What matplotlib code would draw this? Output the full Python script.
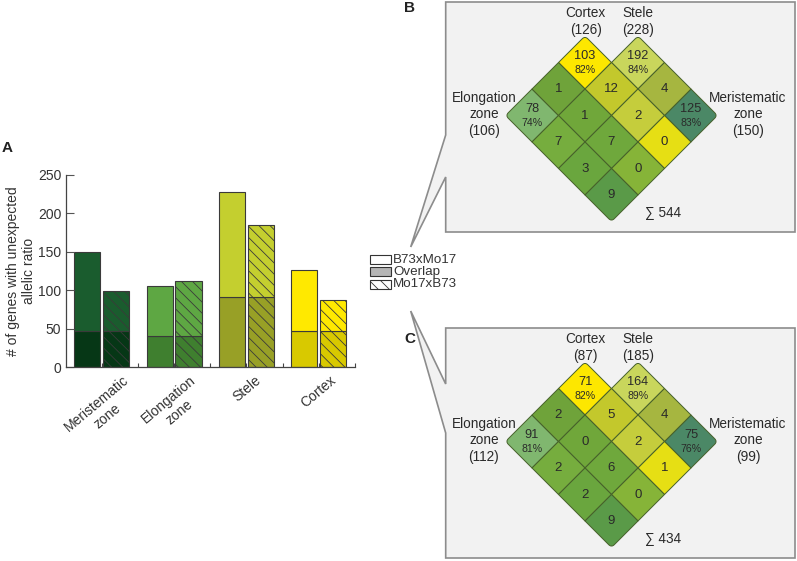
import matplotlib
matplotlib.use("Agg")
import matplotlib.pyplot as plt
from matplotlib.patches import Rectangle, Polygon, PathPatch
from matplotlib.path import Path
import numpy as np

plt.rcParams['font.family'] = ['Liberation Sans', 'DejaVu Sans']
plt.rcParams['hatch.linewidth'] = 0.6

# ---------------- data ----------------
categories = ["Meristematic\nzone", "Elongation\nzone", "Stele", "Cortex"]
b73_total = [150, 106, 228, 126]
mo17_total = [99, 112, 185, 87]
overlap = [47, 41, 92, 47]
bar_light = ['#1a5c2e', '#5ea743', '#c4cf2f', '#ffe900']
bar_dark = ['#063716', '#3f7f2f', '#98a026', '#d8c900']

legend_labels = ["B73xMo17", "Overlap", "Mo17xB73"]

# Venn cells: grid (p, q) -> region
venn_cells = [(3, 2), (2, 3), (0, 3), (3, 0), (3, 1), (2, 2), (1, 3),
              (2, 1), (1, 2), (2, 0), (1, 1), (0, 2), (1, 0), (0, 1), (0, 0)]
venn_b_counts = [103, 192, 125, 78, 1, 12, 4, 1, 2, 7, 7, 0, 3, 0, 9]
venn_b_pct = ["82%", "84%", "83%", "74%"]
venn_c_counts = [71, 164, 75, 91, 2, 5, 4, 0, 2, 2, 6, 1, 2, 0, 9]
venn_c_pct = ["82%", "89%", "76%", "81%"]
venn_colors = ['#fde700', '#c9d65c', '#4b8866', '#80b76f', '#6fa33a', '#c3c82c',
               '#a6b640', '#70a73a', '#c5cd3c', '#76ad3e', '#6fa83c', '#e6df14',
               '#6aa63e', '#86b438', '#5a9a48']
venn_b_totals = {"Cortex": 126, "Stele": 228, "Elongation": 106, "Meristematic": 150}
venn_c_totals = {"Cortex": 87, "Stele": 185, "Elongation": 112, "Meristematic": 99}
venn_b_sum = 544
venn_c_sum = 434

# ---------------- figure ----------------
W, H = 797, 561
fig = plt.figure(figsize=(W / 100, H / 100), dpi=100)

# bar chart axes (pixel geometry)
ax_l, ax_r, ax_b, ax_t = 65.6, 355.0, 367.3, 175.0
ax = fig.add_axes([ax_l / W, 1 - ax_b / H, (ax_r - ax_l) / W, (ax_b - ax_t) / H])
x = np.arange(len(categories))
w = 0.36
off = 0.199
edge = '#3a3a3a'
for i in range(len(categories)):
    # B73xMo17
    ax.bar(x[i] - off, overlap[i], w, color=bar_dark[i], edgecolor=edge, linewidth=0.8)
    ax.bar(x[i] - off, b73_total[i] - overlap[i], w, bottom=overlap[i],
           color=bar_light[i], edgecolor=edge, linewidth=0.8)
    # Mo17xB73
    ax.bar(x[i] + off, overlap[i], w, color=bar_dark[i], edgecolor=edge,
           linewidth=0.8, hatch='\\\\\\')
    ax.bar(x[i] + off, mo17_total[i] - overlap[i], w, bottom=overlap[i],
           color=bar_light[i], edgecolor=edge, linewidth=0.8, hatch='\\\\\\')

ax.set_xlim(-0.5, 3.5)
ax.set_ylim(0, 250)
ax.set_yticks([0, 50, 100, 150, 200, 250])
ax.tick_params(axis='y', direction='in', length=5.5, width=0.8, labelsize=10,
               colors='#555555', labelcolor='#333333', pad=3)
ax.set_xticks(x)
ax.set_xticklabels(categories, rotation=40, ha='center', va='top',
                   multialignment='center', fontsize=10, color='#333333')
ax.set_xticks([0.5, 1.5, 2.5, 3.5], minor=True)
ax.tick_params(axis='x', which='both', direction='in', length=3, width=0.8,
               colors='#444444', labelcolor='#333333', pad=4)
for s in ['top', 'right']:
    ax.spines[s].set_visible(False)
for s in ['left', 'bottom']:
    ax.spines[s].set_color('#444444')
    ax.spines[s].set_linewidth(0.9)
ax.spines['left'].set_bounds(0, 250)

# overlay axes in pixel coords
ov = fig.add_axes([0, 0, 1, 1])
ov.set_xlim(0, W)
ov.set_ylim(H, 0)
ov.axis('off')

ov.text(21, 271, "# of genes with unexpected\nallelic ratio", rotation=90,
        ha='center', va='center', fontsize=10, color='#333333', linespacing=1.15)
ov.text(7, 148, "A", fontsize=11, fontweight='bold', ha='center', va='center', color='#222222')
ov.text(410, 8, "B", fontsize=11, fontweight='bold', ha='center', va='center', color='#222222')
ov.text(410, 339, "C", fontsize=11, fontweight='bold', ha='center', va='center', color='#222222')

# legend
leg_fc = ['white', '#b5b5b5', 'white']
leg_hatch = [None, None, '\\\\\\']
for k, lab in enumerate(legend_labels):
    y0 = 255 + k * 12.4
    ov.add_patch(Rectangle((370, y0), 20.7, 9, facecolor=leg_fc[k], edgecolor='#333333',
                           linewidth=0.8, hatch=leg_hatch[k]))
    ov.text(393.3, y0 + 4.5, lab, fontsize=9.6, ha='left', va='center', color='#333333')

# callout boxes
box_fc, box_ec = '#f2f2f2', '#8c8c8c'
ov.add_patch(Polygon([(445.7, 2), (795, 2), (795, 232), (445.7, 232), (445.7, 177),
                      (410.7, 247), (445.7, 135)], closed=True, facecolor=box_fc,
                     edgecolor=box_ec, linewidth=1.2, joinstyle='miter'))
ov.add_patch(Polygon([(445.7, 328), (795, 328), (795, 558), (445.7, 558), (445.7, 433),
                      (410.7, 311), (445.7, 384)], closed=True, facecolor=box_fc,
                     edgecolor=box_ec, linewidth=1.2, joinstyle='miter'))

d = 26.5
X0 = 611.5
outer = {(3, 0): 'L', (0, 3): 'R', (0, 0): 'B', (3, 2): 'T', (2, 3): 'T'}


def cell_path(cx, cy, rounded):
    verts = [(cx, cy - d), (cx + d, cy), (cx, cy + d), (cx - d, cy)]  # top, right, bottom, left
    names = ['T', 'R', 'B', 'L']
    r = 4.0
    codes, pts = [], []
    for k in range(4):
        V = np.array(verts[k])
        if names[k] in rounded:
            P = np.array(verts[k - 1])
            N = np.array(verts[(k + 1) % 4])
            A = V + r * (P - V) / np.linalg.norm(P - V)
            B = V + r * (N - V) / np.linalg.norm(N - V)
            pts += [tuple(A), tuple(V), tuple(B)]
            codes += [Path.LINETO, Path.CURVE3, Path.CURVE3]
        else:
            pts.append(tuple(V))
            codes.append(Path.LINETO)
    codes[0] = Path.MOVETO
    pts.append(pts[0])
    codes.append(Path.CLOSEPOLY)
    return Path(pts, codes)


def draw_venn(Y0, counts, pcts, totals, total_sum):
    tc = '#2a2a2a'
    for k, (p, q) in enumerate(venn_cells):
        cx = X0 + (q - p) * d
        cy = Y0 - (p + q) * d
        rounded = outer.get((p, q), '')
        path = cell_path(cx, cy, rounded)
        ov.add_patch(PathPatch(path, facecolor=venn_colors[k], edgecolor='#46602a',
                               linewidth=0.7))
        if k < 4:
            ov.text(cx, cy - 6.5, str(counts[k]), fontsize=9.2, ha='center', va='center',
                    color=tc)
            ov.text(cx, cy + 7, pcts[k], fontsize=7.6, ha='center', va='center',
                    color=tc)
        else:
            ov.text(cx, cy, str(counts[k]), fontsize=9.5, ha='center', va='center',
                    color=tc)
    off_y = Y0 - 195
    fs = 9.8
    ov.text(585.7, 12.7 + off_y, "Cortex", fontsize=fs, ha='center', va='center', color=tc)
    ov.text(585.7, 29.5 + off_y, "(%d)" % totals["Cortex"], fontsize=fs, ha='center', va='center', color=tc)
    ov.text(638, 13 + off_y, "Stele", fontsize=fs, ha='center', va='center', color=tc)
    ov.text(638, 30 + off_y, "(%d)" % totals["Stele"], fontsize=fs, ha='center', va='center', color=tc)
    ov.text(484, 97.7 + off_y, "Elongation", fontsize=fs, ha='center', va='center', color=tc)
    ov.text(484, 114 + off_y, "zone", fontsize=fs, ha='center', va='center', color=tc)
    ov.text(484, 130.5 + off_y, "(%d)" % totals["Elongation"], fontsize=fs, ha='center', va='center', color=tc)
    ov.text(748, 97.7 + off_y, "Meristematic", fontsize=fs, ha='center', va='center', color=tc)
    ov.text(748, 114 + off_y, "zone", fontsize=fs, ha='center', va='center', color=tc)
    ov.text(748, 130.5 + off_y, "(%d)" % totals["Meristematic"], fontsize=fs, ha='center', va='center', color=tc)
    ov.text(662.7, 212.7 + off_y, "\u2211 %d" % total_sum, fontsize=fs, ha='center', va='center', color=tc)


draw_venn(195.0, venn_b_counts, venn_b_pct, venn_b_totals, venn_b_sum)
draw_venn(521.0, venn_c_counts, venn_c_pct, venn_c_totals, venn_c_sum)

fig.savefig("out.png", dpi=100)
